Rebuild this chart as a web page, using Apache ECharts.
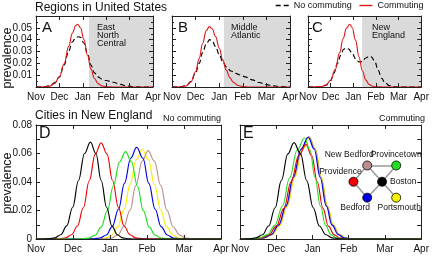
<!DOCTYPE html>
<html>
<head>
<meta charset="utf-8">
<script src="https://cdn.jsdelivr.net/npm/echarts@6/dist/echarts.min.js"></script>
<style>
html,body{margin:0;padding:0;background:#fff}
#chart{width:432px;height:256px}
</style>
</head>
<body>
<div id="chart"></div>
<script>
//月份（x轴 0..5 = Nov..Apr）
var months = ['Nov', 'Dec', 'Jan', 'Feb', 'Mar', 'Apr'];

//上排：各地区 [月, prevalence]
var aCommute = [[0,0],[0.4,0.0002],[0.6,0.0008],[0.8,0.003],[1.0,0.0087],[1.2,0.0195],[1.4,0.0345],[1.55,0.0453],[1.7,0.052],[1.78,0.053],[1.9,0.0501],[2.05,0.040],[2.2,0.0268],[2.35,0.0151],[2.5,0.0072],[2.65,0.0029],[2.8,0.001],[3.0,0.0002],[3.3,0],[5,0]];
var aNoCommute = [[0,0],[0.4,0.0003],[0.6,0.0012],[0.8,0.0037],[1.0,0.0085],[1.2,0.0185],[1.4,0.0305],[1.55,0.038],[1.7,0.0418],[1.8,0.0425],[1.9,0.042],[2.05,0.037],[2.2,0.028],[2.35,0.0185],[2.5,0.012],[2.65,0.0085],[2.8,0.0068],[3.0,0.0055],[3.3,0.004],[3.6,0.0022],[3.9,0.0008],[4.2,0.0002],[4.5,0],[5,0]];
var bCommute = [[0,0],[0.4,0.0002],[0.6,0.001],[0.8,0.0043],[1.0,0.0129],[1.15,0.024],[1.3,0.037],[1.45,0.0476],[1.58,0.051],[1.7,0.0492],[1.85,0.0426],[2.0,0.033],[2.15,0.0229],[2.3,0.0142],[2.45,0.0079],[2.6,0.0039],[2.8,0.0013],[3.0,0.0004],[3.3,0],[5,0]];
var bNoCommute = [[0,0],[0.4,0.0003],[0.6,0.0012],[0.8,0.0045],[1.0,0.012],[1.15,0.02],[1.3,0.029],[1.45,0.0365],[1.6,0.040],[1.7,0.039],[1.85,0.034],[2.0,0.0275],[2.15,0.0215],[2.3,0.017],[2.5,0.0135],[2.7,0.0115],[2.9,0.0102],[3.1,0.0085],[3.4,0.006],[3.7,0.0038],[4.0,0.002],[4.3,0.0009],[4.6,0.0003],[5,0]];
var cCommute = [[0,0],[0.6,0.0004],[0.8,0.0018],[1.0,0.0058],[1.2,0.0147],[1.4,0.029],[1.55,0.0408],[1.7,0.0498],[1.84,0.053],[1.95,0.0503],[2.1,0.0396],[2.25,0.0256],[2.4,0.0137],[2.55,0.006],[2.7,0.0022],[2.85,0.0006],[3.0,0.0002],[3.3,0],[5,0]];
var cNoCommute = [[0,0],[0.6,0.0003],[0.8,0.0015],[1.0,0.0055],[1.15,0.012],[1.3,0.02],[1.45,0.027],[1.57,0.0318],[1.67,0.033],[1.8,0.032],[1.95,0.0285],[2.1,0.024],[2.25,0.0212],[2.4,0.0215],[2.55,0.0245],[2.7,0.026],[2.8,0.0255],[2.95,0.0215],[3.1,0.014],[3.25,0.0075],[3.4,0.0035],[3.6,0.0012],[3.8,0.0003],[4.0,0],[5,0]];
//灰色区域起点（月）
var shadeStart = [2.26, 2.2, 2.39];
var regionNames = ['East\nNorth\nCentral', 'Middle\nAtlantic', 'New\nEngland'];

//下排：城市
var cityNames = ['Boston', 'Providence', 'Provincetown', 'Bedford', 'Portsmouth', 'New Bedford'];
var cityColors = ['#000000', '#ee0000', '#22dd22', '#0000dd', '#f5f000', '#bc8f8f'];
//D: No commuting
var dBoston = [[0,0],[0.19,0],[0.35,0.0002],[0.51,0.0008],[0.67,0.003],[0.83,0.0092],[0.99,0.0221],[1.15,0.0412],[1.31,0.06],[1.47,0.068],[1.62,0.06],[1.76,0.0412],[1.91,0.0221],[2.05,0.0092],[2.2,0.003],[2.34,0.0008],[2.49,0.0002],[2.63,0],[5,0]];
var dProvidence = [[0,0],[0.48,0],[0.64,0.0002],[0.8,0.0008],[0.96,0.003],[1.12,0.0091],[1.28,0.0219],[1.44,0.0409],[1.6,0.0596],[1.76,0.0675],[1.92,0.0596],[2.07,0.0409],[2.23,0.0219],[2.38,0.0091],[2.54,0.003],[2.69,0.0008],[2.85,0.0002],[3.0,0],[5,0]];
var dProvincetown = [[0,0],[1.1,0],[1.27,0.0001],[1.43,0.0007],[1.6,0.0027],[1.76,0.0083],[1.93,0.0199],[2.09,0.0372],[2.26,0.0541],[2.42,0.0613],[2.58,0.0541],[2.74,0.0372],[2.9,0.0199],[3.06,0.0083],[3.22,0.0027],[3.38,0.0007],[3.54,0.0001],[3.7,0],[5,0]];
var dBedford = [[0,0],[1.4,0],[1.57,0.0001],[1.73,0.0007],[1.9,0.0028],[2.06,0.0087],[2.23,0.0209],[2.39,0.039],[2.56,0.0567],[2.72,0.0643],[2.89,0.0567],[3.05,0.039],[3.22,0.0209],[3.38,0.0087],[3.55,0.0028],[3.71,0.0007],[3.88,0.0001],[4.04,0],[5,0]];
var dPortsmouth = [[0,0],[1.55,0],[1.72,0.0001],[1.88,0.0007],[2.05,0.0028],[2.21,0.0085],[2.38,0.0205],[2.54,0.0382],[2.71,0.0556],[2.87,0.063],[3.04,0.0556],[3.2,0.0382],[3.37,0.0205],[3.53,0.0085],[3.7,0.0028],[3.86,0.0007],[4.03,0.0001],[4.19,0],[5,0]];
var dNewBedford = [[0,0],[1.71,0],[1.88,0.0001],[2.04,0.0007],[2.21,0.0027],[2.37,0.0084],[2.54,0.0201],[2.7,0.0376],[2.87,0.0547],[3.03,0.062],[3.2,0.0547],[3.37,0.0376],[3.54,0.0201],[3.71,0.0084],[3.88,0.0027],[4.05,0.0007],[4.22,0.0001],[4.39,0],[5,0]];
//E: Commuting
var eBoston = [[0,0],[0.09,0],[0.27,0.0002],[0.44,0.0008],[0.62,0.003],[0.79,0.0091],[0.97,0.0219],[1.14,0.041],[1.32,0.0597],[1.49,0.0676],[1.67,0.0597],[1.84,0.041],[2.02,0.0219],[2.19,0.0091],[2.37,0.003],[2.54,0.0008],[2.72,0.0002],[2.89,0],[5,0]];
var eProvidence = [[0,0],[0.18,0],[0.39,0.0001],[0.59,0.0007],[0.8,0.0029],[1.0,0.009],[1.21,0.0215],[1.41,0.0402],[1.62,0.0584],[1.82,0.0662],[1.98,0.0584],[2.13,0.0402],[2.29,0.0215],[2.44,0.009],[2.6,0.0029],[2.75,0.0007],[2.91,0.0001],[3.06,0],[5,0]];
var eProvincetown = [[0,0],[0.14,0],[0.35,0.0002],[0.55,0.0008],[0.76,0.0031],[0.96,0.0096],[1.17,0.023],[1.37,0.043],[1.58,0.0626],[1.78,0.0709],[1.93,0.0626],[2.07,0.043],[2.22,0.023],[2.36,0.0096],[2.51,0.0031],[2.65,0.0008],[2.8,0.0002],[2.94,0],[5,0]];
var eBedford = [[0,0],[0.24,0],[0.45,0.0002],[0.65,0.0008],[0.86,0.0031],[1.06,0.0097],[1.27,0.0232],[1.47,0.0433],[1.68,0.063],[1.88,0.0714],[2.05,0.063],[2.21,0.0433],[2.38,0.0232],[2.54,0.0097],[2.71,0.0031],[2.87,0.0008],[3.04,0.0002],[3.2,0],[5,0]];
var ePortsmouth = [[0,0],[0.28,0],[0.49,0.0002],[0.69,0.0008],[0.9,0.0031],[1.1,0.0096],[1.31,0.0231],[1.51,0.0431],[1.72,0.0627],[1.92,0.071],[2.09,0.0627],[2.25,0.0431],[2.42,0.0231],[2.58,0.0096],[2.75,0.0031],[2.91,0.0008],[3.08,0.0002],[3.24,0],[5,0]];
var eNewBedford = [[0,0],[0.26,0],[0.47,0.0002],[0.67,0.0008],[0.88,0.0032],[1.08,0.0097],[1.29,0.0233],[1.49,0.0435],[1.7,0.0634],[1.9,0.0718],[2.07,0.0634],[2.23,0.0435],[2.4,0.0233],[2.56,0.0097],[2.73,0.0032],[2.89,0.0008],[3.06,0.0002],[3.22,0],[5,0]];

//网络图节点（在E图坐标中：月, prevalence）
var nodeX = [3.92, 3.13, 4.31, 3.51, 4.31, 3.51];
var nodeY = [0.0402, 0.0402, 0.0516, 0.029, 0.029, 0.0516];
var cityLinks = [['New Bedford','Provincetown'],['New Bedford','Providence'],['New Bedford','Boston'],['Providence','Bedford'],['Bedford','Boston'],['Boston','Provincetown'],['Boston','Portsmouth']];

var font = '"Liberation Sans", Arial, Helvetica, sans-serif';
var axisColor = '#222';

//面板位置
var panels = [
    {left:36, top:16, width:117, height:71, max:0.06, minor:true, ylab:'top'},
    {left:172, top:16, width:118, height:71, max:0.06, minor:true, ylab:null},
    {left:308, top:16, width:117, height:71, max:0.06, minor:true, ylab:null},
    {left:36, top:125, width:185, height:114, max:0.08, minor:false, ylab:'bottom'},
    {left:240, top:125, width:185, height:114, max:0.08, minor:false, ylab:null}
];

function yFormat(kind) {
    return function (v) {
        var k = Math.round(v * 100);
        if (kind == 'top') {
            return (k > 0 && k < 6) ? v.toFixed(2) : '';
        }
        if (k % 2 != 0) return '';
        return k == 0 ? '0' : v.toFixed(2);
    };
}

var grids = [], xAxes = [], yAxes = [];
panels.forEach(function (p, i) {
    grids.push({left:p.left, top:p.top, width:p.width, height:p.height});
    ['bottom', 'top'].forEach(function (pos) {
        xAxes.push({
            type:'value', gridIndex:i, min:0, max:5, interval:1, position:pos, z:10,
            axisLine:{show:true, onZero:false, lineStyle:{color:axisColor, width:1}},
            axisTick:{show:true, inside:true, length:4, lineStyle:{color:axisColor}},
            axisLabel:{show:pos == 'bottom', margin:5, fontSize:10, color:'#111', fontFamily:font,
                formatter:function (v) { return months[Math.round(v)] || ''; }},
            splitLine:{show:false}
        });
    });
    ['left', 'right'].forEach(function (pos) {
        yAxes.push({
            type:'value', gridIndex:i, min:0, max:p.max, interval:0.01, position:pos, z:10,
            axisLine:{show:true, onZero:false, lineStyle:{color:axisColor, width:1}},
            axisTick:{show:true, inside:true, length:4, lineStyle:{color:axisColor}},
            minorTick:{show:p.minor, splitNumber:2, length:2, lineStyle:{color:axisColor}},
            axisLabel:{show:pos == 'left' && p.ylab != null, margin:4, fontSize:10, color:'#111', fontFamily:font,
                formatter:yFormat(p.ylab)},
            splitLine:{show:false}
        });
    });
});

function lineSeries(name, data, idx, color, dashed) {
    return {
        name:name, type:'line', data:data, xAxisIndex:idx * 2, yAxisIndex:idx * 2,
        smooth:0.4, smoothMonotone:'x', symbol:'none', z:3, silent:true,
        lineStyle:{color:color, width:1.15, type:dashed ? [5, 3] : 'solid'},
        itemStyle:{color:color}
    };
}

var series = [];
var topData = [[aNoCommute, aCommute], [bNoCommute, bCommute], [cNoCommute, cCommute]];
topData.forEach(function (d, i) {
    series.push({
        type:'line', data:[], xAxisIndex:i * 2, yAxisIndex:i * 2, silent:true, z:1,
        markArea:{silent:true, itemStyle:{color:'#dadada'}, data:[[{xAxis:shadeStart[i]}, {xAxis:5}]]}
    });
    series.push(lineSeries('No commuting', d[0], i, '#000', true));
    series.push(lineSeries('Commuting', d[1], i, '#dd1a1a', false));
});

var dData = [dBoston, dProvidence, dProvincetown, dBedford, dPortsmouth, dNewBedford];
var eData = [eBoston, eProvidence, eProvincetown, eBedford, ePortsmouth, eNewBedford];
var drawOrder = [4, 5, 3, 1, 2, 0];
drawOrder.forEach(function (c) {
    series.push(lineSeries(cityNames[c], dData[c], 3, cityColors[c], false));
});
drawOrder.forEach(function (c) {
    series.push(lineSeries(cityNames[c], eData[c], 4, cityColors[c], false));
});

//网络图标签位置
var nodeLabels = {
    'Boston': {position:'right', distance:3, offset:[0, 0]},
    'Providence': {position:'top', distance:1, offset:[-13, 0]},
    'Provincetown': {position:'top', distance:1, offset:[0, 0]},
    'Bedford': {position:'bottom', distance:1, offset:[-12, 0]},
    'Portsmouth': {position:'bottom', distance:1, offset:[3, 0]},
    'New Bedford': {position:'top', distance:1, offset:[-18, 0]}
};
series.push({
    type:'graph', coordinateSystem:'cartesian2d', xAxisIndex:8, yAxisIndex:8, z:5, silent:true,
    symbol:'circle', symbolSize:9,
    data:cityNames.map(function (n, i) {
        var l = nodeLabels[n];
        return {name:n, value:[nodeX[i], nodeY[i]],
            itemStyle:{color:cityColors[i], borderColor:'#000', borderWidth:0.8},
            label:{show:true, position:l.position, distance:l.distance, offset:l.offset}};
    }),
    links:cityLinks.map(function (l) { return {source:l[0], target:l[1]}; }),
    lineStyle:{color:'#999', width:1.5, opacity:1, curveness:0},
    label:{fontSize:8.5, color:'#111', fontFamily:font}
});

function txt(x, y, s, size, opts) {
    opts = opts || {};
    return {type:'text', x:x, y:y, rotation:opts.rot || 0, z:20, silent:true,
        style:{text:s, fill:'#111', font:size + 'px ' + font, align:opts.align || 'left',
            verticalAlign:opts.va || 'middle', lineHeight:opts.lh || size}};
}

var graphics = [
    txt(35, 8, 'Regions in United States', 12),
    txt(35, 116, 'Cities in New England', 12),
    txt(221, 119, 'No commuting', 9, {align:'right'}),
    txt(425, 119, 'Commuting', 9, {align:'right'}),
    txt(8, 58, 'prevalence', 12.5, {align:'center', rot:Math.PI / 2}),
    txt(8, 183, 'prevalence', 12.5, {align:'center', rot:Math.PI / 2}),
    txt(42, 28, 'A', 15),
    txt(178, 28, 'B', 15),
    txt(312, 28, 'C', 15),
    txt(39, 134, 'D', 16),
    txt(243, 134, 'E', 16),
    txt(97, 24, regionNames[0], 9, {va:'top', lh:8}),
    txt(231, 24, regionNames[1], 9, {va:'top', lh:8}),
    txt(372, 24, regionNames[2], 9, {va:'top', lh:8})
];

var myChart = echarts.init(document.getElementById('chart'), null, {renderer:'canvas'});
myChart.setOption({
    animation:false,
    backgroundColor:'#fff',
    textStyle:{fontFamily:font},
    legend:{
        data:['No commuting', 'Commuting'],
        orient:'horizontal', left:275, top:1, width:157, itemWidth:13, itemHeight:8, itemGap:7,
        selectedMode:false, padding:0,
        itemStyle:{opacity:0},
        lineStyle:{width:1.4},
        textStyle:{fontSize:9, color:'#111', fontFamily:font}
    },
    grid:grids,
    xAxis:xAxes,
    yAxis:yAxes,
    series:series,
    graphic:graphics
});
</script>
</body>
</html>
